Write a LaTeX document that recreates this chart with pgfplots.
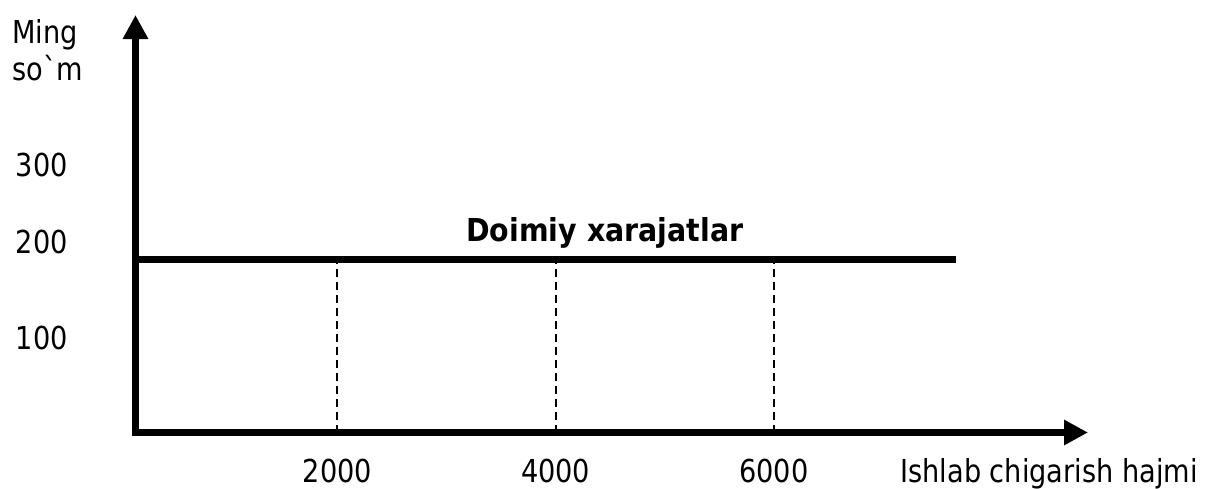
\documentclass[border=0pt]{standalone}
\usepackage{fontspec}
\setmainfont{DejaVu Sans}[FakeStretch=0.86, Ligatures=TeXOff, BoldFeatures={FakeStretch=0.9}]
\usepackage{pgfplots}
\pgfplotsset{compat=1.18}
\usetikzlibrary{arrows.meta}
\newcommand{\lblfont}{\fontsize{15.8}{18.5}\selectfont}
\begin{document}
\begin{tikzpicture}
\begin{axis}[
  scale only axis,
  width=476.25pt, height=208.75pt,
  xmin=150, xmax=8878, ymin=0, ymax=483,
  enlargelimits=false,
  clip=false,
  axis lines=left,
  axis line style={line width=3.5pt, line cap=rect},
  every outer x axis line/.append style={-{Triangle[length=12pt,width=12pt]}},
  every outer y axis line/.append style={-{Triangle[length=12pt,width=12pt]}},
  major tick length=0pt,
  xtick={2000,4000,6000},
  ytick={100,300},
  extra y ticks={200},
  extra y tick style={yticklabel style={yshift=4.75pt}},
  /pgf/number format/assume math mode=true,
  /pgf/number format/1000 sep={},
  tick label style={font=\lblfont, inner sep=0pt},
  xticklabel style={anchor=base, yshift=-24.75pt},
  yticklabel style={anchor=base east, xshift=-33.75pt, yshift=-1.5pt},
  xlabel={Ishlab chigarish hajmi},
  ylabel={Ming\\so`m},
  every axis x label/.style={at={(axis description cs:0,0)}, anchor=base west, xshift=382.25pt, yshift=-24.75pt, font=\lblfont, inner sep=0pt},
  every axis y label/.style={at={(axis description cs:0,1)}, anchor=north west, align=left, xshift=-61.75pt, yshift=-2pt, font=\lblfont, inner sep=0pt},
]
\addplot[ycomb, black, line width=0.9pt, dash pattern=on 4pt off 2.5pt, no marks] coordinates {(2000,200) (4000,200) (6000,200)};
\addplot[black, line width=3.2pt, no marks] coordinates {(150,200) (7668,200)};
\node[font=\bfseries\lblfont, anchor=base, inner sep=0pt] at (axis cs:4450,221) {Doimiy xarajatlar};
\end{axis}
\pgfresetboundingbox
\path (-67.75pt,-27.75pt) rectangle (537.75pt,216.25pt);
\end{tikzpicture}
\end{document}
